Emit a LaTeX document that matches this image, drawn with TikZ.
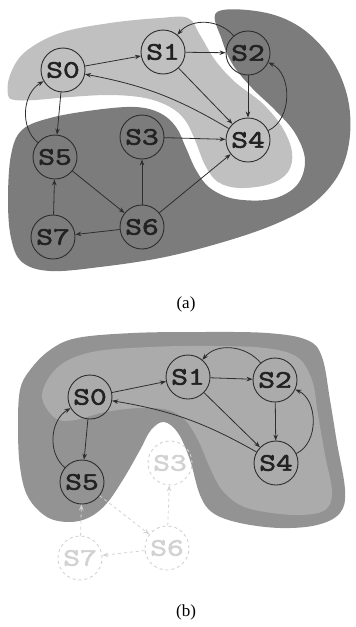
\documentclass[tikz,border=0pt]{standalone}
\usepackage{fontspec}
\setmainfont{Liberation Serif}
\newfontfamily\statefont[FakeStretch=1.3,FakeBold=2.5]{Latin Modern Mono}
\usetikzlibrary{arrows.meta}
\definecolor{lightA}{HTML}{C0C0C0}
\definecolor{darkA}{HTML}{7C7C7C}
\definecolor{outerB}{HTML}{939393}
\definecolor{innerB}{HTML}{ABABAB}
\definecolor{edgec}{HTML}{2E2E2E}
\definecolor{textc}{HTML}{222222}
\definecolor{ghostc}{HTML}{D2D2D2}
\begin{document}
\begin{tikzpicture}[x=1pt,y=1pt,
  state/.style={circle,draw=edgec,line width=0.9pt,minimum size=44pt,inner sep=0pt,
    font=\statefont\fontsize{25}{25}\selectfont,text=textc},
  ghost/.style={state,draw=ghostc,dashed,text=ghostc},
  edge/.style={draw=edgec,line width=0.8pt,-{Stealth[length=6pt,width=4.5pt]}},
  gedge/.style={draw=ghostc,line width=0.8pt,dashed,-{Stealth[length=6pt,width=4.5pt]}},
  caption/.style={font=\fontsize{17}{17}\selectfont}
]
\useasboundingbox (0,0) rectangle (356,-627);
% ---------- panel (a) regions
\fill[darkA] plot[smooth cycle, tension=0.6] coordinates {
 (217,-12) (262,-12) (300,-27) (330,-57) (347,-95) (350,-135) (340,-172) (315,-202)
 (280,-222) (230,-240) (165,-257) (100,-267) (50,-271) (22,-262) (11,-238) (8,-200)
 (11,-155) (22,-130) (50,-118) (95,-110) (135,-107) (160,-113) (176,-127) (186,-148)
 (196,-170) (210,-188) (235,-199) (272,-199) (297,-185) (305,-160) (295,-133)
 (275,-110) (252,-88) (233,-65) (222,-40)};
\fill[lightA] plot[smooth cycle, tension=0.6] coordinates {
 (8,-95) (10,-75) (25,-52) (60,-33) (110,-23) (160,-18) (188,-18) (200,-35) (215,-60)
 (235,-82) (262,-103) (282,-127) (292,-152) (288,-172) (270,-184) (240,-188)
 (218,-182) (205,-165) (195,-140) (185,-120) (170,-107) (145,-98) (110,-95)
 (70,-97) (35,-100) (15,-100)};
% ---------- panel (a) states
\node[state] (a0) at (63,-70) {S0};
\node[state] (a1) at (163,-52) {S1};
\node[state] (a2) at (248,-53) {S2};
\node[state] (a3) at (142,-137) {S3};
\node[state] (a4) at (248,-140) {S4};
\node[state] (a5) at (55,-157) {S5};
\node[state] (a6) at (142,-227) {S6};
\node[state] (a7) at (53,-237) {S7};
\draw[edge] (a0) -- (a1);
\draw[edge] (a1) -- (a2);
\draw[edge] (a2) to[out=130,in=50] (a1);
\draw[edge] (a1) -- (a4);
\draw[edge] (a4) to[bend right=10] (a0);
\draw[edge] (a2) -- (a4);
\draw[edge] (a4) to[out=25,in=-25] (a2);
\draw[edge] (a3) -- (a4);
\draw[edge] (a5) to[out=140,in=210] (a0);
\draw[edge] (a0) -- (a5);
\draw[edge] (a6) -- (a3);
\draw[edge] (a6) -- (a4);
\draw[edge] (a5) -- (a6);
\draw[edge] (a7) -- (a5);
\draw[edge] (a6) -- (a7);
\node[caption] (capa) at (186,-304) {(a)};
% ---------- panel (b) regions
\fill[outerB] plot[smooth cycle, tension=0.6] coordinates {
 (20,-390) (30,-370) (50,-350) (77,-338) (133,-333) (200,-332) (267,-333) (307,-340)
 (322,-357) (330,-400) (337,-443) (345,-490) (340,-513) (317,-525) (280,-528)
 (240,-523) (213,-513) (200,-495) (190,-460) (178,-433) (164,-422) (151,-430)
 (140,-450) (124,-478) (107,-503) (90,-517) (70,-522) (47,-517) (28,-497)
 (20,-467) (18,-427)};
\fill[innerB] plot[smooth cycle, tension=0.6] coordinates {
 (42,-395) (58,-367) (92,-352) (150,-347) (210,-346) (265,-348) (297,-357)
 (312,-380) (318,-415) (325,-455) (332,-492) (325,-510) (300,-515) (265,-512)
 (240,-505) (222,-490) (210,-468) (198,-440) (185,-420) (168,-410) (140,-408)
 (105,-412) (75,-420) (55,-418)};
% ---------- panel (b) states
\node[state] (b0) at (90,-397) {S0};
\node[state] (b1) at (188,-377) {S1};
\node[state] (b2) at (275,-380) {S2};
\node[ghost] (b3) at (170,-463) {S3};
\node[state] (b4) at (276,-463) {S4};
\node[state] (b5) at (82,-482) {S5};
\node[ghost] (b6) at (167,-548) {S6};
\node[ghost] (b7) at (80,-558) {S7};
\draw[edge] (b0) -- (b1);
\draw[edge] (b1) -- (b2);
\draw[edge] (b2) to[out=130,in=50] (b1);
\draw[edge] (b1) -- (b4);
\draw[edge] (b4) to[bend right=10] (b0);
\draw[edge] (b2) -- (b4);
\draw[edge] (b4) to[out=25,in=-25] (b2);
\draw[edge] (b5) to[out=140,in=210] (b0);
\draw[edge] (b0) -- (b5);
\draw[gedge] (b7) -- (b5);
\draw[gedge] (b5) -- (b6);
\draw[gedge] (b6) -- (b3);
\draw[gedge] (b6) -- (b7);
\node[caption] (capb) at (186,-612) {(b)};
\end{tikzpicture}
\end{document}
